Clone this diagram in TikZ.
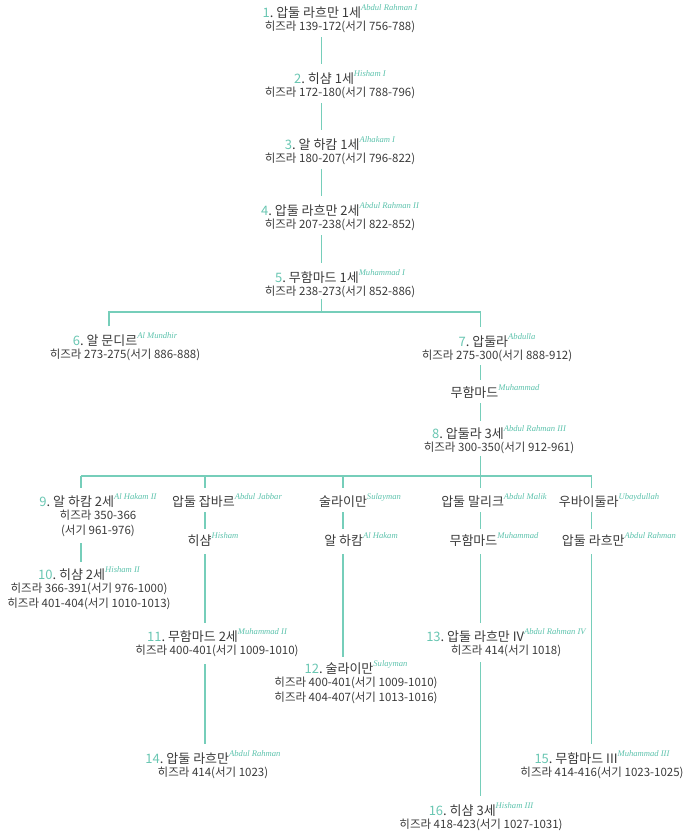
\documentclass[tikz,border=0pt]{standalone}
\usepackage{fontspec}
\setmainfont{Noto Sans CJK KR}
\newfontfamily\supf{Liberation Serif}
\usetikzlibrary{calc}
\definecolor{mint}{RGB}{118,206,186}
\definecolor{numc}{RGB}{105,198,178}
\definecolor{txt}{RGB}{58,58,58}
\definecolor{supc}{RGB}{92,194,172}
\newcommand\tfs{\fontsize{13}{13}\selectfont}
\newcommand\sfs{\fontsize{11.5}{13}\selectfont}
\newcommand\sx[1]{\smash{\raisebox{7pt}{\supf\itshape\fontsize{8.6}{8.6}\selectfont\color{supc}#1}}}
\newcommand\ttl[3]{{\tfs{\color{numc}#1}.~#2\sx{#3}}}
\newcommand\nme[2]{{\tfs #1\sx{#2}}}
\newcommand\lnk[5]{\draw[conn] ($(#1.south -| #3)+(0,#4)$) -- ($(#2.north -| #3)+(0,-#5)$);}
\tikzset{
  person/.style={inner sep=0pt, outer sep=0pt, align=center, anchor=base, text=txt, font=\sfs},
  conn/.style={draw=mint, line width=1.3pt}
}
\begin{document}
\begin{tikzpicture}[x=1pt,y=-1pt]
\useasboundingbox (0,0) rectangle (691,833);
% column coordinates
\coordinate (cA) at (321.5,0);
\coordinate (cB) at (109,0);
\coordinate (cG) at (480.5,0);
\coordinate (cD) at (81,0);
\coordinate (cE) at (205,0);
\coordinate (cF) at (343,0);
\coordinate (cH) at (591.5,0);
\coordinate (b1) at (0,312);
\coordinate (b2) at (0,476);

\node[person] (n1) at (340,30) {\ttl{1}{압둘 라흐만 1세}{Abdul Rahman I}\\ 히즈라 139-172(서기 756-788)};
\node[person] (n2) at (340,96) {\ttl{2}{히샴 1세}{Hisham I}\\ 히즈라 172-180(서기 788-796)};
\node[person] (n3) at (340,162) {\ttl{3}{알 하캄 1세}{Alhakam I}\\ 히즈라 180-207(서기 796-822)};
\node[person] (n4) at (340,228) {\ttl{4}{압둘 라흐만 2세}{Abdul Rahman II}\\ 히즈라 207-238(서기 822-852)};
\node[person] (n5) at (340,295) {\ttl{5}{무함마드 1세}{Muhammad I}\\ 히즈라 238-273(서기 852-886)};
\node[person] (n6) at (125,358) {\ttl{6}{알 문디르}{Al Mundhir}\\ 히즈라 273-275(서기 886-888)};
\node[person] (n7) at (497,359) {\ttl{7}{압둘라}{Abdulla}\\ 히즈라 275-300(서기 888-912)};
\node[person] (n7b) at (495,397) {\nme{무함마드}{Muhammad}};
\node[person] (n8) at (499,451) {\ttl{8}{압둘라 3세}{Abdul Rahman III}\\ 히즈라 300-350(서기 912-961)};
\node[person] (n9) at (98,534) {\ttl{9}{알 하캄 2세}{Al Hakam II}\\ 히즈라 350-366\\[2pt] (서기 961-976)};
\node[person] (j1) at (227,506) {\nme{압둘 잡바르}{Abdul Jabbar}};
\node[person] (s1) at (360,506) {\nme{술라이만}{Sulayman}};
\node[person] (m1) at (494,506) {\nme{압둘 말리크}{Abdul Malik}};
\node[person] (u1) at (609,506) {\nme{우바이둘라}{Ubaydullah}};
\node[person] (j2) at (213,545) {\nme{히샴}{Hisham}};
\node[person] (s2) at (361,545) {\nme{알 하캄}{Al Hakam}};
\node[person] (m2) at (494,545) {\nme{무함마드}{Muhammad}};
\node[person] (u2) at (619,545) {\nme{압둘 라흐만}{Abdul Rahman}};
\node[person] (n10) at (89,607) {\ttl{10}{히샴 2세}{Hisham II}\\ 히즈라 366-391(서기 976-1000)\\[2pt] 히즈라 401-404(서기 1010-1013)};
\node[person] (n11) at (217,654) {\ttl{11}{무함마드 2세}{Muhammad II}\\ 히즈라 400-401(서기 1009-1010)};
\node[person] (n12) at (356,701) {\ttl{12}{술라이만}{Sulayman}\\ 히즈라 400-401(서기 1009-1010)\\[2pt] 히즈라 404-407(서기 1013-1016)};
\node[person] (n13) at (506,654) {\ttl{13}{압둘 라흐만 IV}{Abdul Rahman IV}\\ 히즈라 414(서기 1018)};
\node[person] (n14) at (213,776) {\ttl{14}{압둘 라흐만}{Abdul Rahman}\\ 히즈라 414(서기 1023)};
\node[person] (n15) at (602,776) {\ttl{15}{무함마드 III}{Muhammad III}\\ 히즈라 414-416(서기 1023-1025)};
\node[person] (n16) at (481,828) {\ttl{16}{히샴 3세}{Hisham III}\\ 히즈라 418-423(서기 1027-1031)};

% main line
\lnk{n1}{n2}{cA}{5}{8}
\lnk{n2}{n3}{cA}{5}{8}
\lnk{n3}{n4}{cA}{5}{8}
\lnk{n4}{n5}{cA}{5}{8}
\draw[conn] ($(n5.south -| cA)+(0,2)$) -- (cA |- b1);
\draw[conn] ($(n6.north -| cB)+(0,-8)$) -- (cB |- b1) -- (cG |- b1) -- ($(n7.north -| cG)+(0,-8)$);
\lnk{n7}{n7b}{cG}{4}{6}
\lnk{n7b}{n8}{cG}{5}{6}
\draw[conn] ($(n8.south -| cG)+(0,3)$) -- (cG |- b2);
% second bar
\draw[conn] (cD |- b2) -- (cH |- b2);
\draw[conn] (cD |- b2) -- ($(n9.north -| cD)+(0,-7)$);
\draw[conn] (cE |- b2) -- ($(j1.north -| cE)+(0,-7)$);
\draw[conn] (cF |- b2) -- ($(s1.north -| cF)+(0,-7)$);
\draw[conn] (cG |- b2) -- ($(m1.north -| cG)+(0,-7)$);
\draw[conn] (cH |- b2) -- ($(u1.north -| cH)+(0,-7)$);
% branches
\lnk{n9}{n10}{cD}{7}{6}
\lnk{j1}{j2}{cE}{5}{5}
\lnk{j2}{n11}{cE}{8}{7}
\lnk{n11}{n14}{cE}{8}{8}
\lnk{s1}{s2}{cF}{5}{5}
\lnk{s2}{n12}{cF}{8}{5}
\lnk{m1}{m2}{cG}{5}{5}
\lnk{m2}{n13}{cG}{8}{7}
\lnk{n13}{n16}{cG}{6}{8}
\lnk{u1}{u2}{cH}{5}{5}
\lnk{u2}{n15}{cH}{8}{8}
\end{tikzpicture}
\end{document}
